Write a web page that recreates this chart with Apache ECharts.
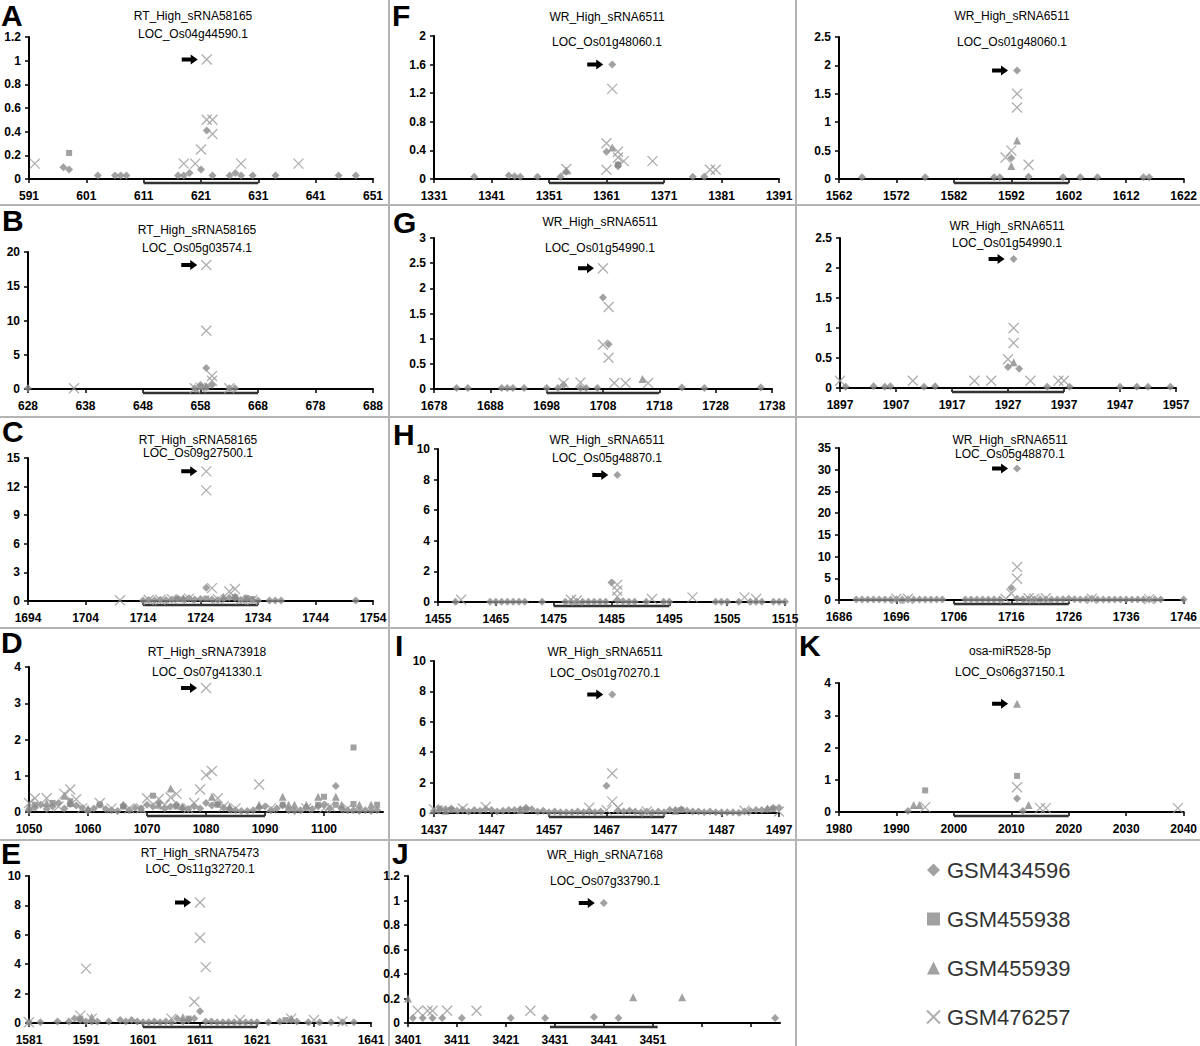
<!DOCTYPE html>
<html><head><meta charset="utf-8">
<script src="https://cdn.jsdelivr.net/npm/echarts@6/dist/echarts.min.js"></script>
<style>html,body{margin:0;padding:0;background:#fff}#c{width:1200px;height:1046px}</style>
</head><body><div id="c"></div><script>
// ---------- DATA (x = position, y = abundance) ----------
// d = GSM434596 (diamond), s = GSM455938 (square), t = GSM455939 (triangle), c = GSM476257 (cross)
const A_d = [[597,0.10],[598,0.08],[603,0.03],[606,0.03],[607,0.03],[608,0.03],[617,0.03],[618,0.03],[619,0.05],[621,0.08],[622,0.41],[623,0.03],[626,0.03],[627,0.05],[628,0.03],[630,0.03],[634,0.03],[645,0.03],[648,0.03]];
const A_s = [[598,0.22]];
const A_t = [];
const A_c = [[592,0.13],[618,0.13],[620,0.13],[621,0.25],[622,1.01],[622,0.50],[623,0.50],[623,0.38],[628,0.13],[638,0.13]];

const B_d = [[628,0.1],[657,0.1],[658,0.6],[659,3.05],[659,0.3],[660,0.6],[663,0.1],[664,0.1]];
const B_s = [[658,0.3]];
const B_t = [[659,0.4]];
const B_c = [[636,0.1],[657,0.1],[658,0.2],[659,18.1],[659,8.5],[660,1.9],[660,1.2],[663,0.1]];

const C_d = [[1714,0.05],[1715,0.1],[1716,0.08],[1717,0.12],[1718,0.1],[1719,0.15],[1720,0.25],[1721,0.2],[1722,0.3],[1723,0.15],[1724,0.2],[1725,1.4],[1726,0.15],[1727,0.1],[1728,0.2],[1729,0.35],[1730,0.3],[1731,0.1],[1732,0.15],[1733,0.1],[1734,0.05],[1736,0.05],[1737,0.05],[1738,0.05],[1751,0.05]];
const C_s = [[1720,0.2],[1725,0.25],[1730,0.4],[1732,0.3],[1733,0.2]];
const C_t = [[1721,0.3],[1728,0.45],[1730,0.5]];
const C_c = [[1710,0.07],[1715,0.1],[1717,0.1],[1719,0.2],[1722,0.25],[1725,13.6],[1725,11.6],[1726,1.35],[1727,0.2],[1729,1.0],[1730,1.25],[1731,0.15],[1733,0.1]];

const D_d = [[1050,0.05],[1051,0.12],[1052,0.2],[1053,0.08],[1054,0.15],[1055,0.25],[1056,0.1],[1057,0.22],[1058,0.18],[1059,0.12],[1060,0.05],[1061,0.1],[1062,0.2],[1063,0.08],[1064,0.05],[1065,0.03],[1066,0.18],[1067,0.05],[1068,0.12],[1069,0.1],[1070,0.2],[1071,0.15],[1072,0.25],[1073,0.1],[1074,0.15],[1075,0.2],[1076,0.12],[1077,0.08],[1078,0.15],[1079,0.1],[1080,0.25],[1081,0.18],[1082,0.22],[1083,0.12],[1084,0.08],[1085,0.05],[1086,0.03],[1087,0.03],[1088,0.05],[1089,0.12],[1090,0.15],[1091,0.05],[1092,0.1],[1093,0.18],[1094,0.05],[1095,0.03],[1096,0.05],[1097,0.12],[1098,0.08],[1099,0.15],[1100,0.2],[1101,0.1],[1102,0.72],[1103,0.08],[1104,0.05],[1105,0.05],[1106,0.03],[1107,0.05],[1108,0.03],[1109,0.05]];
const D_s = [[1051,0.2],[1054,0.25],[1057,0.3],[1062,0.2],[1066,0.15],[1071,0.45],[1075,0.15],[1082,0.2],[1093,0.2],[1099,0.2],[1100,0.42],[1102,0.2],[1105,1.78],[1105,0.22],[1109,0.2]];
const D_t = [[1050,0.15],[1053,0.25],[1056,0.45],[1057,0.25],[1060,0.1],[1066,0.2],[1069,0.1],[1072,0.2],[1074,0.65],[1076,0.15],[1081,0.42],[1084,0.15],[1089,0.2],[1093,0.42],[1094,0.2],[1095,0.2],[1097,0.2],[1099,0.42],[1102,0.42],[1103,0.2],[1106,0.2],[1108,0.2]];
const D_c = [[1050,0.25],[1051,0.38],[1053,0.38],[1055,0.15],[1056,0.5],[1057,0.62],[1058,0.35],[1059,0.1],[1062,0.25],[1064,0.1],[1067,0.1],[1069,0.1],[1070,0.38],[1072,0.36],[1073,0.2],[1074,0.4],[1075,0.5],[1077,0.1],[1078,0.25],[1079,0.62],[1080,3.42],[1080,1.02],[1081,1.13],[1082,0.38],[1083,0.15],[1085,0.1],[1089,0.76],[1091,0.1],[1097,0.1],[1100,0.1],[1101,0.15],[1104,0.1]];

const E_d = [[1581,0.05],[1583,0.05],[1586,0.1],[1588,0.1],[1589,0.3],[1590,0.2],[1591,0.1],[1592,0.1],[1593,0.1],[1595,0.1],[1597,0.2],[1598,0.1],[1599,0.2],[1600,0.1],[1601,0.05],[1602,0.05],[1603,0.1],[1604,0.05],[1605,0.1],[1606,0.05],[1607,0.3],[1608,0.1],[1609,0.2],[1610,0.3],[1611,0.8],[1612,0.1],[1613,0.1],[1614,0.05],[1615,0.05],[1616,0.05],[1617,0.05],[1618,0.05],[1619,0.05],[1620,0.05],[1621,0.05],[1623,0.05],[1625,0.1],[1627,0.2],[1628,0.1],[1630,0.05],[1632,0.05],[1634,0.05],[1636,0.05],[1638,0.05]];
const E_s = [[1590,0.3],[1609,0.3],[1626,0.2]];
const E_t = [[1592,0.4],[1608,0.4],[1627,0.3]];
const E_c = [[1581,0.05],[1590,0.5],[1591,3.7],[1592,0.3],[1606,0.3],[1610,1.45],[1611,8.2],[1611,5.8],[1612,3.8],[1618,0.2],[1627,0.3],[1631,0.2],[1636,0.1]];

const F_d = [[1338,0.03],[1344,0.05],[1345,0.04],[1346,0.03],[1349,0.03],[1353,0.03],[1354,0.1],[1361,0.38],[1362,1.6],[1363,0.2],[1363,0.18],[1376,0.03],[1378,0.03]];
const F_s = [[1363,0.2]];
const F_t = [[1362,0.44],[1354,0.12]];
const F_c = [[1354,0.14],[1361,0.5],[1361,0.13],[1362,1.26],[1363,0.38],[1363,0.3],[1364,0.25],[1369,0.25],[1379,0.13],[1380,0.13]];

const F2_d = [[1566,0.03],[1577,0.03],[1589,0.03],[1590,0.03],[1592,0.37],[1593,1.91],[1595,0.04],[1601,0.03],[1604,0.03],[1607,0.03],[1615,0.03],[1616,0.03]];
const F2_s = [];
const F2_t = [[1593,0.68],[1592,0.23]];
const F2_c = [[1593,1.5],[1593,1.26],[1592,0.5],[1591,0.38],[1595,0.25]];

const G_d = [[1682,0.02],[1684,0.02],[1690,0.02],[1691,0.02],[1692,0.02],[1694,0.02],[1698,0.02],[1700,0.02],[1701,0.08],[1704,0.02],[1705,0.02],[1707,0.02],[1708,1.82],[1709,0.89],[1722,0.03],[1726,0.02],[1736,0.03]];
const G_s = [];
const G_t = [[1715,0.2]];
const G_c = [[1701,0.12],[1704,0.13],[1708,2.4],[1708,0.88],[1709,1.63],[1709,0.62],[1710,0.12],[1712,0.12],[1716,0.12]];

const G2_d = [[1898,0.02],[1903,0.03],[1905,0.02],[1906,0.03],[1912,0.02],[1914,0.03],[1927,0.35],[1928,2.15],[1929,0.32],[1934,0.02],[1938,0.02],[1947,0.02],[1950,0.02],[1952,0.02],[1956,0.02]];
const G2_s = [];
const G2_t = [[1928,0.43]];
const G2_c = [[1897,0.12],[1910,0.12],[1921,0.12],[1924,0.12],[1927,0.48],[1928,1.0],[1928,0.75],[1931,0.12],[1936,0.12],[1937,0.12]];

const H_d = [[1458,0.02],[1464,0.02],[1465,0.02],[1466,0.02],[1467,0.02],[1468,0.02],[1469,0.02],[1470,0.02],[1473,0.02],[1477,0.02],[1478,0.02],[1479,0.02],[1480,0.02],[1481,0.02],[1482,0.02],[1483,0.02],[1484,0.02],[1485,1.28],[1486,8.3],[1486,0.1],[1487,0.05],[1488,0.02],[1489,0.02],[1491,0.02],[1494,0.02],[1495,0.02],[1503,0.02],[1504,0.02],[1505,0.02],[1507,0.02],[1509,0.02],[1510,0.02],[1511,0.02],[1513,0.02],[1514,0.02],[1515,0.02]];
const H_s = [];
const H_t = [];
const H_c = [[1459,0.15],[1478,0.15],[1479,0.1],[1486,1.13],[1486,0.75],[1486,0.35],[1492,0.2],[1499,0.3],[1508,0.3],[1510,0.2]];

const H2_d = [[1689,0.1],[1690,0.1],[1691,0.1],[1692,0.1],[1693,0.1],[1694,0.1],[1695,0.1],[1696,0.1],[1697,0.1],[1698,0.1],[1699,0.1],[1700,0.1],[1701,0.1],[1702,0.1],[1703,0.1],[1704,0.1],[1708,0.1],[1709,0.1],[1710,0.1],[1711,0.1],[1712,0.1],[1713,0.1],[1714,0.1],[1716,2.8],[1717,30.3],[1717,0.3],[1718,0.2],[1719,0.2],[1720,0.1],[1721,0.2],[1722,0.1],[1723,0.1],[1724,0.1],[1725,0.2],[1726,0.3],[1727,0.2],[1728,0.1],[1729,0.2],[1730,0.3],[1731,0.1],[1732,0.1],[1733,0.1],[1734,0.1],[1735,0.1],[1736,0.1],[1737,0.1],[1738,0.1],[1739,0.1],[1740,0.1],[1741,0.1],[1742,0.1],[1746,0.1]];
const H2_s = [];
const H2_t = [];
const H2_c = [[1696,0.3],[1698,0.3],[1715,0.3],[1716,1.5],[1717,7.6],[1717,4.9],[1719,0.4],[1720,0.3],[1722,0.4],[1730,0.3],[1740,0.2]];

const I_d = [[1437,0.15],[1438,0.2],[1439,0.25],[1440,0.3],[1441,0.15],[1442,0.2],[1443,0.1],[1444,0.2],[1445,0.15],[1446,0.25],[1447,0.2],[1448,0.1],[1449,0.15],[1450,0.2],[1451,0.2],[1452,0.25],[1453,0.35],[1454,0.25],[1455,0.1],[1456,0.15],[1457,0.05],[1458,0.1],[1459,0.05],[1460,0.05],[1461,0.05],[1462,0.1],[1463,0.05],[1464,0.1],[1465,0.05],[1466,0.1],[1467,1.8],[1468,7.8],[1469,0.15],[1470,0.1],[1471,0.15],[1472,0.1],[1473,0.05],[1474,0.1],[1475,0.05],[1476,0.1],[1477,0.05],[1478,0.2],[1479,0.2],[1480,0.25],[1481,0.15],[1482,0.1],[1483,0.1],[1484,0.05],[1485,0.1],[1486,0.05],[1487,0.05],[1488,0.05],[1489,0.05],[1490,0.02],[1491,0.1],[1492,0.15],[1493,0.2],[1494,0.2],[1495,0.25],[1496,0.35],[1497,0.35]];
const I_s = [[1438,0.3],[1440,0.2],[1453,0.2],[1480,0.2],[1496,0.25]];
const I_t = [[1439,0.15],[1452,0.2],[1479,0.15],[1495,0.3]];
const I_c = [[1437,0.25],[1442,0.3],[1446,0.4],[1464,0.35],[1467,0.2],[1468,2.6],[1468,0.75],[1469,0.35],[1474,0.1],[1491,0.15],[1497,0.1]];

const J_d = [[3402,0.04],[3404,0.04],[3406,0.04],[3408,0.04],[3412,0.04],[3422,0.04],[3429,0.04],[3439,0.05],[3441,0.98],[3444,0.04],[3476,0.04]];
const J_s = [];
const J_t = [[3401,0.2],[3447,0.21],[3457,0.21]];
const J_c = [[3403,0.1],[3405,0.1],[3406,0.1],[3409,0.1],[3415,0.1],[3426,0.1]];

const K_d = [[1992,0.03],[2011,0.42],[2012,0.03]];
const K_s = [[1995,0.67],[2011,1.12]];
const K_t = [[1993,0.22],[1994,0.22],[2011,3.36],[2013,0.22]];
const K_c = [[1995,0.15],[2011,0.77],[2015,0.12],[2016,0.12],[2039,0.12]];

// target-site bars [from, to]
const BAR_A = [611,631], BAR_B = [648,668], BAR_C = [1714,1734], BAR_D = [1070,1090], BAR_E = [1601,1621];
const BAR_F = [1351,1371], BAR_F2 = [1582,1602], BAR_G = [1698,1718], BAR_G2 = [1917,1937];
const BAR_H = [1475,1495], BAR_H2 = [1706,1726], BAR_I = [1457,1477], BAR_J = [3430,3452], BAR_K = [2000,2020];

const SERIES_NAMES = ['GSM434596','GSM455938','GSM455939','GSM476257'];

// ---------- LAYOUT ----------
const panels = [
 {L:'A', lp:[1,0], t1:'RT_High_sRNA58165', t2:'LOC_Os04g44590.1', tp:[193,16,34], g:[29,37,344,142], x:[591,651], y:[1.2,0.2], bar:BAR_A, data:[A_d,A_s,A_t,A_c]},
 {L:'B', lp:[2,205], t1:'RT_High_sRNA58165', t2:'LOC_Os05g03574.1', tp:[197,230,248], g:[28,252,345,137], x:[628,688], y:[20,5], bar:BAR_B, data:[B_d,B_s,B_t,B_c]},
 {L:'C', lp:[2,416], t1:'RT_High_sRNA58165', t2:'LOC_Os09g27500.1', tp:[198,440,453], g:[28,458,345,143], x:[1694,1754], y:[15,3], bar:BAR_C, data:[C_d,C_s,C_t,C_c]},
 {L:'D', lp:[1,627], t1:'RT_High_sRNA73918', t2:'LOC_Os07g41330.1', tp:[207,652,672], g:[29,667,354,145], x:[1050,1110], y:[4,1], bar:BAR_D, data:[D_d,D_s,D_t,D_c], hideAbove:1100},
 {L:'E', lp:[1,838], t1:'RT_High_sRNA75473', t2:'LOC_Os11g32720.1', tp:[200,853,869], g:[29,876,342,147], x:[1581,1641], y:[10,2], bar:BAR_E, data:[E_d,E_s,E_t,E_c]},
 {L:'F', lp:[392,0], t1:'WR_High_sRNA6511', t2:'LOC_Os01g48060.1', tp:[607,17,42], g:[434,36,345,143], x:[1331,1391], y:[2,0.4], bar:BAR_F, data:[F_d,F_s,F_t,F_c]},
 {L:'', lp:[0,0], t1:'WR_High_sRNA6511', t2:'LOC_Os01g48060.1', tp:[1012,16,42], g:[839,37,346,142], x:[1562,1622], y:[2.5,0.5], bar:BAR_F2, data:[F2_d,F2_s,F2_t,F2_c]},
 {L:'G', lp:[393,207], t1:'WR_High_sRNA6511', t2:'LOC_Os01g54990.1', tp:[600,222,248], g:[434,238,338,151], x:[1678,1738], y:[3,0.5], bar:BAR_G, data:[G_d,G_s,G_t,G_c]},
 {L:'', lp:[0,0], t1:'WR_High_sRNA6511', t2:'LOC_Os01g54990.1', tp:[1007,226,243], g:[840,238,336,150], x:[1897,1957], y:[2.5,0.5], bar:BAR_G2, data:[G2_d,G2_s,G2_t,G2_c]},
 {L:'H', lp:[393,419], t1:'WR_High_sRNA6511', t2:'LOC_Os05g48870.1', tp:[607,440,458], g:[438,449,347,153], x:[1455,1515], y:[10,2], bar:BAR_H, data:[H_d,H_s,H_t,H_c]},
 {L:'', lp:[0,0], t1:'WR_High_sRNA6511', t2:'LOC_Os05g48870.1', tp:[1010,440,454], g:[839,448,345,152], x:[1686,1746], y:[35,5], bar:BAR_H2, data:[H2_d,H2_s,H2_t,H2_c]},
 {L:'I', lp:[395,630], t1:'WR_High_sRNA6511', t2:'LOC_Os01g70270.1', tp:[605,652,673], g:[434,661,345,152], x:[1437,1497], y:[10,2], bar:BAR_I, data:[I_d,I_s,I_t,I_c]},
 {L:'J', lp:[392,838], t1:'WR_High_sRNA7168', t2:'LOC_Os07g33790.1', tp:[605,855,881], g:[408,876,372,147], x:[3401,3477], y:[1.2,0.2], bar:BAR_J, data:[J_d,J_s,J_t,J_c], hideAbove:3451},
 {L:'K', lp:[799,630], t1:'osa-miR528-5p', t2:'LOC_Os06g37150.1', tp:[1010,651,672], g:[839,683,345,129], x:[1980,2040], y:[4,1], bar:BAR_K, data:[K_d,K_s,K_t,K_c]}
];

const FONT = '"Liberation Sans", Arial, sans-serif';
const CROSS = 'path://M0,0L10,10M10,0L0,10';
const ARROW = 'path://M0,3L9,3L9,0L16,5L9,10L9,7L0,7Z';
const SYMS = ['diamond','rect','triangle',CROSS];
const SIZES = [8,6,8,10];
const GRAY = '#8a8a8a';
const styleFor = k => k === 3 ? {color:'rgba(0,0,0,0)', borderColor:'#9a9a9a', borderWidth:1.3} : {color:GRAY};

const grid = [], xAxis = [], yAxis = [], series = [], graphic = [];
panels.forEach((p, i) => {
  grid.push({left:p.g[0], top:p.g[1], width:p.g[2], height:p.g[3]});
  xAxis.push({type:'value', gridIndex:i, min:p.x[0], max:p.x[1], interval:10,
    axisLine:{show:true, onZero:false, lineStyle:{color:'#000', width:2}},
    axisTick:{show:true, length:4, lineStyle:{color:'#000', width:1.5}},
    splitLine:{show:false},
    axisLabel:{margin:11, fontSize:12, fontWeight:'bold', color:'#000', fontFamily:FONT, showMaxLabel: !p.hideAbove,
      formatter: v => (p.hideAbove && v > p.hideAbove) ? '' : String(v)}});
  yAxis.push({type:'value', gridIndex:i, min:0, max:p.y[0], interval:p.y[1],
    axisLine:{show:true, lineStyle:{color:'#000', width:2}},
    axisTick:{show:true, length:4, lineStyle:{color:'#000', width:1.5}},
    splitLine:{show:false},
    axisLabel:{margin:8, fontSize:12, fontWeight:'bold', color:'#000', fontFamily:FONT}});
  // peak (for arrow)
  let best = null;
  p.data.forEach((arr, k) => arr.forEach(pt => { if (!best || pt[1] > best.pt[1]) best = {k, pt}; }));
  p.data.forEach((arr, k) => {
    const s = {type:'scatter', name:SERIES_NAMES[k], xAxisIndex:i, yAxisIndex:i, data:arr,
      symbol:SYMS[k], symbolSize:SIZES[k], itemStyle:styleFor(k), clip:false, silent:true, z:2+k};
    if (best && best.k === k) {
      s.markPoint = {silent:true, symbol:ARROW, symbolSize:[16,10], symbolOffset:[-17,0],
        itemStyle:{color:'#000', borderWidth:0}, label:{show:false}, data:[{coord:best.pt}]};
    }
    series.push(s);
  });
  series.push({type:'custom', xAxisIndex:i, yAxisIndex:i, silent:true, clip:false, z:1,
    data:[[p.bar[0], p.bar[1], 0]], encode:{x:[0,1], y:2},
    renderItem:(params, api) => {
      const a = api.coord([api.value(0), 0]), b = api.coord([api.value(1), 0]);
      return {type:'line', shape:{x1:a[0], y1:a[1]+4, x2:b[0], y2:b[1]+4}, style:{stroke:'#333', lineWidth:2.5}};
    }});
  graphic.push({type:'text', x:p.tp[0], y:p.tp[1], style:{text:p.t1, align:'center', verticalAlign:'middle', font:'12px ' + FONT, fill:'#000'}});
  graphic.push({type:'text', x:p.tp[0], y:p.tp[2], style:{text:p.t2, align:'center', verticalAlign:'middle', font:'12px ' + FONT, fill:'#000'}});
  if (p.L) graphic.push({type:'text', x:p.lp[0], y:p.lp[1], style:{text:p.L, align:'left', verticalAlign:'top', font:'bold 30px ' + FONT, fill:'#000'}});
});
// panel separators
const SEP = '#b4b4b4';
[[389,0,389,1046],[796,0,796,1046],[0,205,1200,205],[0,417,1200,417],[0,628,1200,628],[0,840,1200,840]].forEach(l =>
  graphic.push({type:'line', shape:{x1:l[0], y1:l[1], x2:l[2], y2:l[3]}, style:{stroke:SEP, lineWidth:2}, z:-1}));

const chart = echarts.init(document.getElementById('c'), null, {renderer:'svg'});
chart.setOption({
  animation:false,
  grid, xAxis, yAxis, series, graphic,
  legend:{show:true, selectedMode:false, orient:'vertical', left:921, top:854, itemWidth:13, itemHeight:13, itemGap:27,
    textStyle:{fontSize:22, color:'#333', fontFamily:FONT, padding:[0,0,0,2]},
    data:[{name:'GSM434596', icon:'diamond'},{name:'GSM455938', icon:'rect'},{name:'GSM455939', icon:'triangle'},{name:'GSM476257', icon:CROSS}]}
});
</script></body></html>
